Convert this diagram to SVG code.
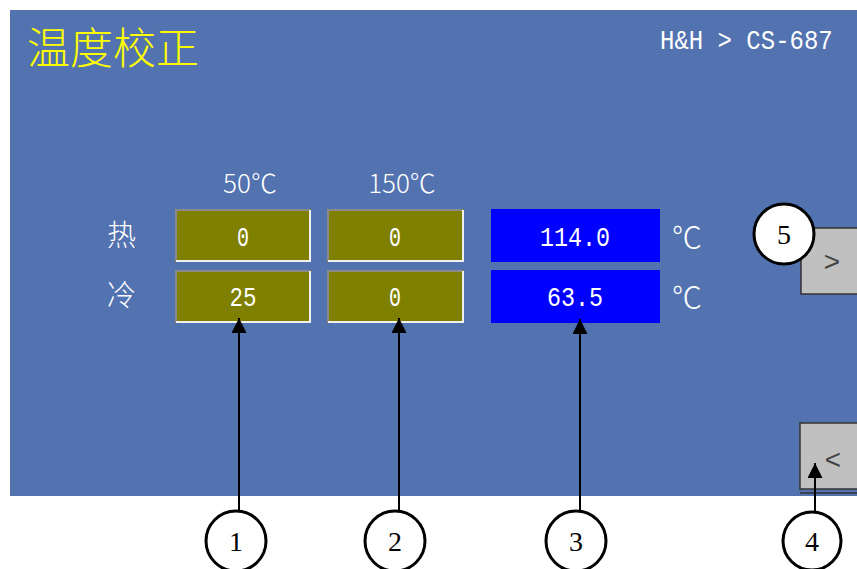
<svg xmlns="http://www.w3.org/2000/svg" width="857" height="569" viewBox="0 0 857 569">
<defs>
<style>
.cjk{font-family:"Noto Sans CJK SC","Noto Sans",sans-serif;font-weight:300;}
.mono{font-family:"Liberation Mono","DejaVu Sans Mono",monospace;}
.w{fill:#FFFFFF;}
.olive{fill:#808000;}
.vbox{fill:#0000FF;}
.bev-d{stroke:#8A8A8A;stroke-width:2;fill:none;}
.bev-l{stroke:#F0F0F0;stroke-width:2;fill:none;}
.btn{fill:#C0C0C0;stroke:#333333;stroke-width:1.5;}
.callout{fill:#FFFFFF;stroke:#000000;stroke-width:3;}
.num{font-family:"Liberation Serif",serif;font-size:28px;fill:#000000;}
.conn{stroke:#000000;stroke-width:2;fill:none;marker-end:url(#ah);}
</style>
<marker id="ah" markerUnits="userSpaceOnUse" markerWidth="16" markerHeight="16" refX="15" refY="7.5" orient="auto">
<path d="M0,0 L15,7.5 L0,15 z" fill="#000000"/>
</marker>
</defs>

<rect x="10" y="10" width="847" height="486" fill="#5272B0"/>

<g id="title">
<text class="cjk" x="27" y="64" font-size="43" fill="#FFFF00">温度校正</text>
</g>
<g id="breadcrumb">
<text class="mono w" transform="translate(660,49) scale(1,1.18)" x="0" y="0" font-size="24">H&amp;H &gt; CS-687</text>
</g>

<g id="col-headers">
<text class="cjk w" x="250" y="193" font-size="26" text-anchor="middle">50℃</text>
<text class="cjk w" x="402" y="193" font-size="26" text-anchor="middle">150℃</text>
</g>
<g id="row-labels">
<text class="cjk w" x="107" y="246" font-size="29">热</text>
<text class="cjk w" x="107" y="306" font-size="29">冷</text>
</g>

<g id="field-hot-50">
<rect class="olive" x="175" y="209" width="136" height="53"/>
<polyline class="bev-d" points="176,261 176,210 310,210"/>
<polyline class="bev-l" points="310,210 310,261 176,261"/>
<text class="mono w" x="243" y="246" font-size="27" text-anchor="middle" textLength="12" lengthAdjust="spacingAndGlyphs">0</text>
</g>
<g id="field-hot-150">
<rect class="olive" x="327" y="209" width="137" height="53"/>
<polyline class="bev-d" points="328,261 328,210 463,210"/>
<polyline class="bev-l" points="463,210 463,261 328,261"/>
<text class="mono w" x="395" y="246" font-size="27" text-anchor="middle" textLength="12" lengthAdjust="spacingAndGlyphs">0</text>
</g>
<g id="field-cold-50">
<rect class="olive" x="175" y="270" width="136" height="53"/>
<polyline class="bev-d" points="176,322 176,271 310,271"/>
<polyline class="bev-l" points="310,271 310,322 176,322"/>
<text class="mono w" x="243" y="306" font-size="27" text-anchor="middle" textLength="27" lengthAdjust="spacingAndGlyphs">25</text>
</g>
<g id="field-cold-150">
<rect class="olive" x="327" y="270" width="137" height="53"/>
<polyline class="bev-d" points="328,322 328,271 463,271"/>
<polyline class="bev-l" points="463,271 463,322 328,322"/>
<text class="mono w" x="395" y="306" font-size="27" text-anchor="middle" textLength="12" lengthAdjust="spacingAndGlyphs">0</text>
</g>

<g id="value-hot">
<rect class="vbox" x="491" y="209" width="169" height="53"/>
<text class="mono w" x="575" y="246" font-size="27" text-anchor="middle" textLength="70" lengthAdjust="spacingAndGlyphs">114.0</text>
</g>
<g id="value-cold">
<rect class="vbox" x="491" y="270" width="169" height="53"/>
<text class="mono w" x="575" y="306" font-size="27" text-anchor="middle" textLength="56" lengthAdjust="spacingAndGlyphs">63.5</text>
</g>
<g id="units">
<text class="cjk w" x="672" y="248" font-size="30">℃</text>
<text class="cjk w" x="672" y="308" font-size="30">℃</text>
</g>

<g id="btn-next">
<rect class="btn" x="801" y="228" width="60" height="66"/>
<text class="mono" x="832" y="271" font-size="28" fill="#444444" text-anchor="middle">&gt;</text>
</g>
<g id="btn-prev">
<rect class="btn" x="800" y="423" width="61" height="66"/>
<line x1="800" y1="493" x2="857" y2="493" stroke="#333333" stroke-width="1.5"/>
<text class="mono" x="833" y="469" font-size="28" fill="#444444" text-anchor="middle">&lt;</text>
</g>

<g id="connectors">
<line class="conn" x1="239" y1="511" x2="239" y2="318"/>
<line class="conn" x1="399" y1="511" x2="399" y2="318"/>
<line class="conn" x1="580" y1="511" x2="580" y2="319"/>
<line class="conn" x1="815" y1="511" x2="815" y2="463"/>
</g>

<g id="callout-1">
<circle class="callout" cx="236" cy="541" r="30"/>
<text class="num" x="236" y="551" text-anchor="middle">1</text>
</g>
<g id="callout-2">
<circle class="callout" cx="395" cy="541" r="30"/>
<text class="num" x="395" y="551" text-anchor="middle">2</text>
</g>
<g id="callout-3">
<circle class="callout" cx="576" cy="541" r="30"/>
<text class="num" x="576" y="551" text-anchor="middle">3</text>
</g>
<g id="callout-4">
<circle class="callout" cx="812" cy="541" r="29"/>
<text class="num" x="812" y="551" text-anchor="middle">4</text>
</g>
<g id="callout-5">
<circle class="callout" cx="784" cy="234" r="30"/>
<text class="num" x="784" y="244" text-anchor="middle">5</text>
</g>
</svg>
